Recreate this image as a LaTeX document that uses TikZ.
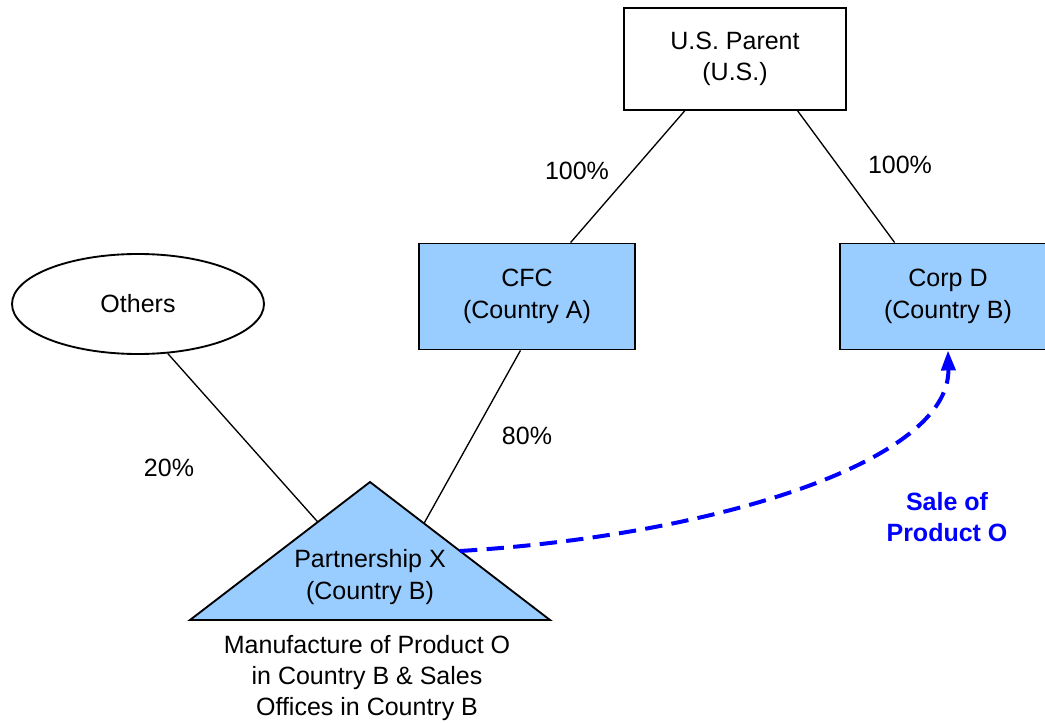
\documentclass[tikz,border=0pt]{standalone}
\usepackage{fontspec}
\setmainfont{Liberation Sans}
\usetikzlibrary{arrows.meta,shapes.geometric,calc}
\definecolor{boxblue}{HTML}{99CCFF}
\definecolor{saleblue}{HTML}{0000FF}
\begin{document}
\begin{tikzpicture}[x=0.75pt,y=-0.75pt,
  every node/.style={font=\fontsize{18.75}{23.6}\selectfont, align=center, inner sep=0pt},
  plainbox/.style={draw=black, line width=1.4pt, fill=white, rectangle, minimum width=#1*0.75pt, minimum height=102*0.75pt},
  bluebox/.style={draw=black, line width=1.4pt, fill=boxblue, rectangle, minimum width=#1*0.75pt, minimum height=106*0.75pt},
  link/.style={draw=black, line width=1pt},
  salearrow/.style={draw=saleblue, line width=3pt, dash pattern=on 13pt off 7pt, -{Triangle[length=15pt,width=10.5pt]}},
  pct/.style={}]
\useasboundingbox (0,0) rectangle (1045,723);
\fill[white] (0,0) rectangle (1045,723);

\node[plainbox=222] (parent) at (735,59) {U.S. Parent\\(U.S.)};
\node[bluebox=216] (cfc) at (527,296.5) {CFC\\(Country A)};
\node[bluebox=216] (corpd) at (948,296.5) {Corp D\\(Country B)};
\node[draw=black, line width=1.4pt, ellipse, minimum width=252*0.75pt, minimum height=100*0.75pt] (others) at (138,304) {Others};

% triangle
\coordinate (apex) at (370,482);
\coordinate (bl) at (190,620);
\coordinate (br) at (550,620);
\filldraw[fill=boxblue, draw=black, line width=1.4pt, line join=miter] (apex) -- (br) -- (bl) -- cycle;
\node (px) at (370,577) {Partnership X\\(Country B)};

\coordinate (tl) at ($(apex)!0.29!(bl)$);
\coordinate (tr) at ($(apex)!0.30!(br)$);
\coordinate (tmid) at ($(apex)!0.5!(br)$);

\draw[link] ($(parent.south west)!0.275!(parent.south east)$) -- ($(cfc.north west)!0.70!(cfc.north east)$);
\draw[link] ($(parent.south west)!0.78!(parent.south east)$) -- ($(corpd.north west)!0.255!(corpd.north east)$);
\draw[link] ($(cfc.south west)!0.47!(cfc.south east)$) -- (tr);
\draw[link] (others.-59) -- (tl);

\node[pct] (p1) at (577,171) {100\%};
\node[pct] (p2) at (900,165) {100\%};
\node[pct] (p3) at (527,436) {80\%};
\node[pct] (p4) at (169,468) {20\%};

\draw[salearrow] (tmid) .. controls (720,535) and (950,460) .. (corpd.south);
\node[text=saleblue, font=\fontsize{18.75}{23.6}\selectfont\bfseries] (sale) at (947,517) {Sale of\\Product O};

\node (desc) at (367,678) {Manufacture of Product O\\in Country B \& Sales\\Offices in Country B};
\end{tikzpicture}
\end{document}
